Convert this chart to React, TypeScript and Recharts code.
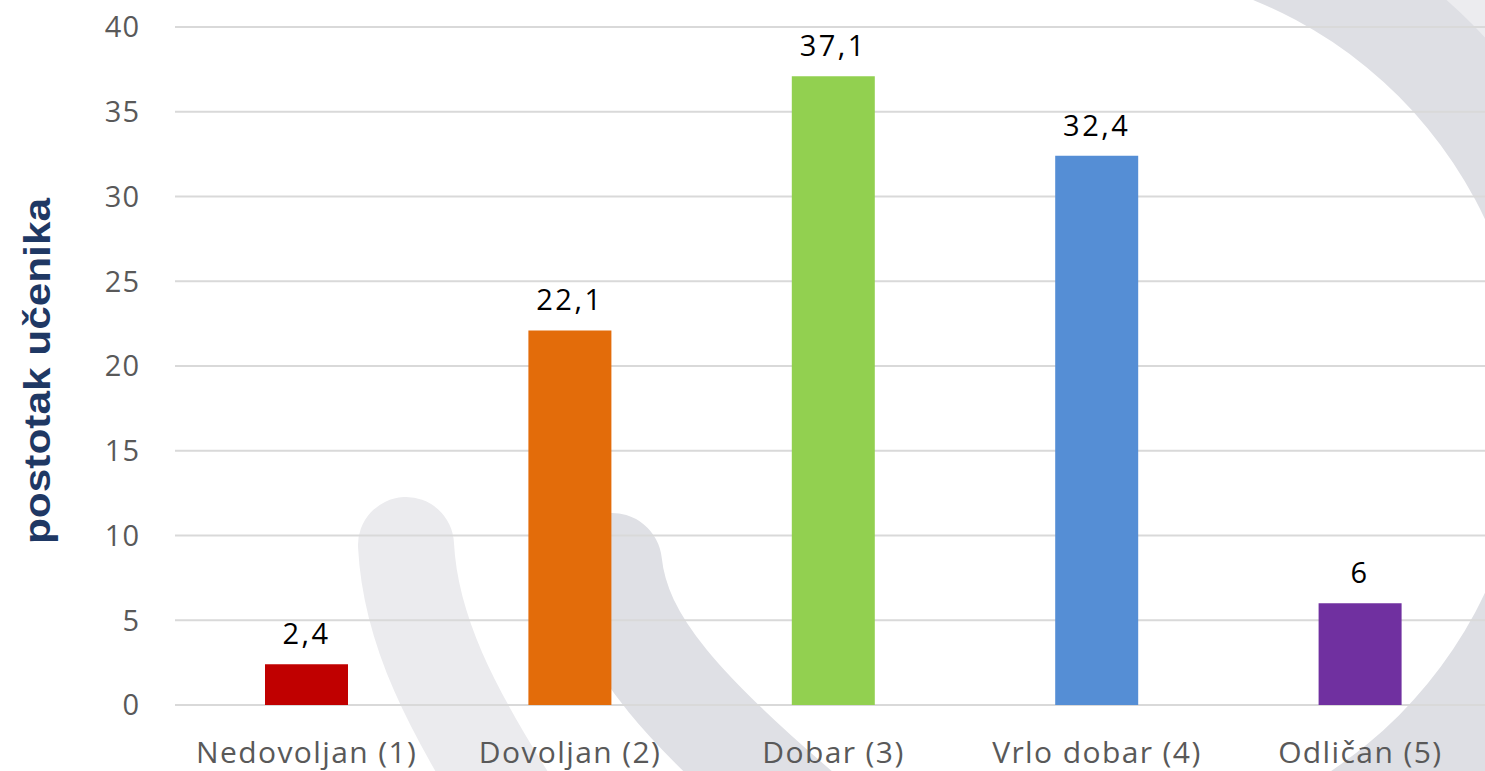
import React from 'react'
import { BarChart, Bar, XAxis, YAxis, CartesianGrid, LabelList, Cell } from 'recharts'

const categories = ['Nedovoljan (1)', 'Dovoljan (2)', 'Dobar (3)', 'Vrlo dobar (4)', 'Odličan (5)']
const values = [2.4, 22.1, 37.1, 32.4, 6]
const colors = ['#c00000', '#e36c0a', '#92d050', '#558ed5', '#7030a0']
const yTicks = [0, 5, 10, 15, 20, 25, 30, 35, 40]

const data = categories.map((name, i) => ({ name, value: values[i], fill: colors[i] }))

const fmt = (v: any) => String(v).replace('.', ',')

// faint logo watermark behind the chart
function Watermark() {
  const cx = 1089
  const cy = 406
  const ring = (r0: number, r1: number) =>
    `M ${cx} ${cy - r1} A ${r1} ${r1} 0 0 1 ${cx} ${cy + r1} L ${cx} ${cy + r0} A ${r0} ${r0} 0 0 0 ${cx} ${cy - r0} Z`
  return (
    <svg width={1485} height={771} style={{ position: 'absolute', left: 0, top: 0 }}>
      <path d={ring(540, 640)} fill="#ececef" />
      <path d={ring(438, 541)} fill="#dedfe4" />
      <path d="M 406 545 C 410 625, 445 705, 535 840" stroke="#ebebee" strokeWidth={96} strokeLinecap="round" fill="none" />
      <path d="M 612 563 C 620 640, 680 710, 830 835" stroke="#dfe0e5" strokeWidth={100} strokeLinecap="round" fill="none" />
    </svg>
  )
}

const YTitle = () => (
  <text
    x={0}
    y={0}
    transform="translate(50, 371) rotate(-90)"
    textAnchor="middle"
    textLength={346}
    lengthAdjust="spacingAndGlyphs"
    fill="#1f3864"
    fontFamily="'Liberation Sans', Arial, sans-serif"
    fontWeight="bold"
    fontSize={36}
  >
    postotak učenika
  </text>
)

export default function App() {
  return (
    <div style={{ position: 'fixed', left: 0, top: 0, width: 1485, height: 771, overflow: 'hidden', background: '#fff' }}>
      <Watermark />
      <div style={{ position: 'absolute', left: 0, top: 0 }}>
        <BarChart width={1492} height={771} data={data} margin={{ top: 27, right: 0, left: 0, bottom: 0 }}>
          <CartesianGrid vertical={false} stroke="#d9d9d9" strokeWidth={2} />
          <XAxis
            dataKey="name"
            height={66}
            axisLine={false}
            tickLine={false}
            tickSize={0}
            tickMargin={37}
            interval={0}
            tick={{ fill: '#595959', fontSize: 30, letterSpacing: 1.4, fontFamily: "'Open Sans', sans-serif" }}
          />
          <YAxis
            width={175}
            domain={[0, 40]}
            ticks={yTicks}
            axisLine={false}
            tickLine={false}
            tickSize={0}
            tickMargin={35}
            tick={{ fill: '#595959', fontSize: 29, letterSpacing: 1, fontFamily: "'Open Sans', sans-serif" }}
            label={{ content: YTitle }}
          />
          <Bar dataKey="value" barSize={83} isAnimationActive={false}>
            {data.map((d, i) => (
              <Cell key={`cell-${i}`} fill={d.fill} />
            ))}
            <LabelList
              dataKey="value"
              position="top"
              offset={20}
              formatter={fmt}
              fill="#000"
              fontSize={29}
              letterSpacing={2.5}
              fontFamily="'Open Sans', sans-serif"
            />
          </Bar>
        </BarChart>
      </div>
    </div>
  )
}
